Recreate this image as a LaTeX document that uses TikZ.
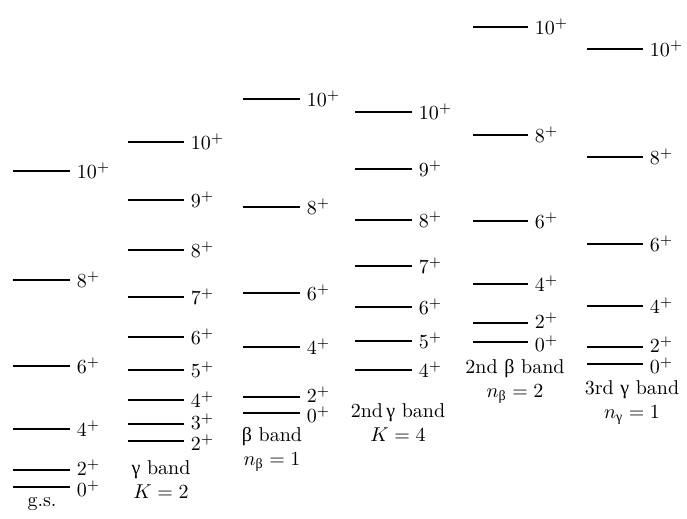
\documentclass[tikz,border=0pt]{standalone}
\usepackage{amsmath}
\usepackage{fontspec}
\newfontfamily\grk{Liberation Serif}
\usetikzlibrary{positioning}

\begin{document}
\begin{tikzpicture}[
		x=0.5pt, y=-0.5pt,
		level/.style={line width=0.9pt},
		spin/.style={anchor=west, inner sep=0pt, xshift=3pt},
		band/.style={align=center, inner sep=0pt}
		]
		\useasboundingbox (0,0) rectangle (687,519);
		
		%--------------------------------------------------
		% Ground-state band
		%--------------------------------------------------
		
		\foreach \y/\j/\s in {171/10/0,280/8/0,366/6/0,429/4/0,470/2/1,487/0/-1}
		{
			\draw[level] (13,\y) -- ++(57,0) node[spin,yshift=\s pt] (gs-\j) {$\j^{+}$};
		}
		\node[band] (gs) at (42,504) {g.s.};
		
		%--------------------------------------------------
		% Gamma band
		%--------------------------------------------------
		
		\foreach \y/\j/\s in {142/10/0,200/9/0,250/8/0,297/7/0,337/6/0,370/5/0,400/4/0,424/3/1,441/2/-1}
		{
			\draw[level] (128,\y) -- ++(56,0) node[spin,yshift=\s pt] (gam-\j) {$\j^{+}$};
		}
		\node[band] (gam) at (161,480) {{\grk γ} band\\$K=2$};
		
		%--------------------------------------------------
		% Beta band
		%--------------------------------------------------
		
		\foreach \y/\j/\s in {99/10/0,207/8/0,293/6/0,347/4/0,397/2/1,413/0/-1}
		{
			\draw[level] (243,\y) -- ++(57,0) node[spin,yshift=\s pt] (bet-\j) {$\j^{+}$};
		}
		\node[band] (bet) at (272,449) {{\grk β} band\\$n_{\text{\grk β}}=1$};
		
		%--------------------------------------------------
		% Second gamma band
		%--------------------------------------------------
		
		\foreach \y/\j/\s in {112/10/0,169/9/0,220/8/0,266/7/0,307/6/0,341/5/0,370/4/0}
		{
			\draw[level] (355,\y) -- ++(57,0) node[spin,yshift=\s pt] (gamb-\j) {$\j^{+}$};
		}
		\node[band] (gamb) at (398,423) {2nd\,{\grk γ} band\\$K=4$};
		
		%--------------------------------------------------
		% Second beta band
		%--------------------------------------------------
		
		\foreach \y/\j/\s in {27/10/0,135/8/0,221/6/0,284/4/0,323/2/1,342/0/-1}
		{
			\draw[level] (473,\y) -- ++(55,0) node[spin,yshift=\s pt] (betb-\j) {$\j^{+}$};
		}
		\node[band] (betb) at (515,381) {2nd {\grk β} band\\$n_{\text{\grk β}}=2$};
		
		%--------------------------------------------------
		% Third gamma band
		%--------------------------------------------------
		
		\foreach \y/\j/\s in {49/10/0,157/8/0,244/6/0,306/4/0,347/2/1,364/0/-1}
		{
			\draw[level] (587,\y) -- ++(56,0) node[spin,yshift=\s pt] (gamc-\j) {$\j^{+}$};
		}
		\node[band] (gamc) at (632,403) {3rd {\grk γ} band\\$n_{\text{\grk γ}}=1$};
		
	\end{tikzpicture}
\end{document}
